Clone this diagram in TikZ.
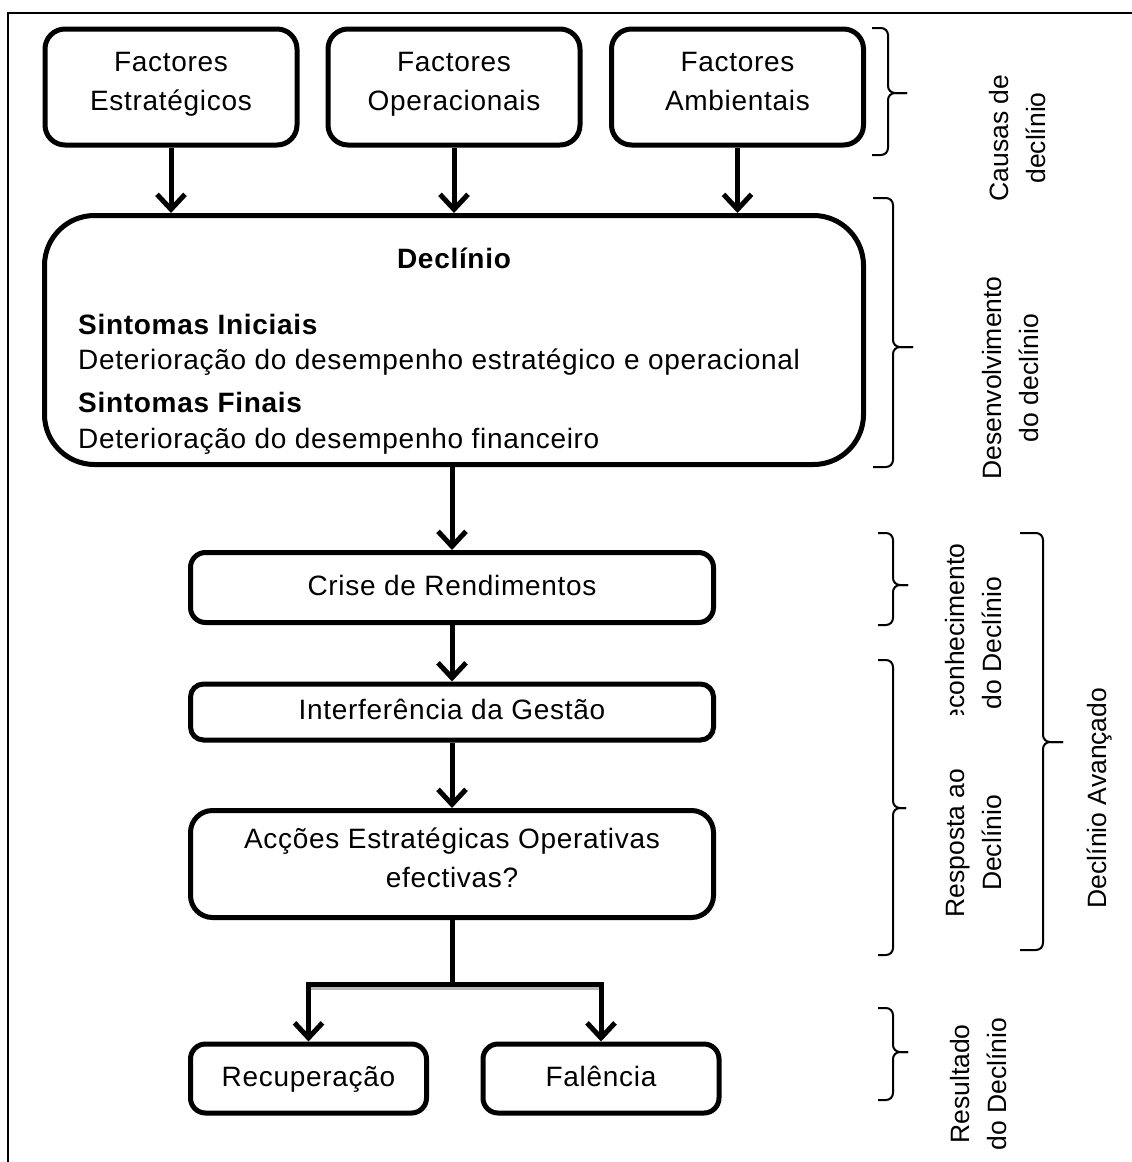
\documentclass[tikz,border=0pt]{standalone}
\usepackage{fontspec}
\setmainfont{Liberation Sans}
\newfontfamily\spacedfont{Liberation Sans}[LetterSpace=2.5]
\usetikzlibrary{arrows.meta}
\newcommand{\bracket}[6]{% x0 x1 x2 ytop ymid ybot
  \draw[brc] (#1,#4) -- (#2,#4) -- (#2,#5) -- (#3,#5);
  \draw[brc] (#1,#6) -- (#2,#6) -- (#2,#5) -- (#3,#5);}
\begin{document}
\begin{tikzpicture}[x=1pt,y=-1pt,
  box/.style={draw, line width=5pt, align=center, inner sep=0pt,
    font=\spacedfont\fontsize{28}{39}\selectfont},
  topbox/.style={box, rounded corners=20pt, minimum width=252pt, minimum height=116pt},
  midbox/.style={box, rounded corners=15pt, minimum width=523pt},
  endbox/.style={box, rounded corners=15pt, minimum width=236pt, minimum height=70pt},
  txt/.style={inner sep=0pt, font=\spacedfont\fontsize{28}{39}\selectfont},
  btxt/.style={inner sep=0pt, font=\spacedfont\bfseries\fontsize{28}{39}\selectfont},
  arr/.style={line width=5pt, -{Straight Barb[length=15pt, width=28pt, line width=5pt]}},
  conn/.style={line width=5pt},
  brc/.style={line width=2pt, rounded corners=7pt},
  lbl/.style={rotate=90, align=center, inner sep=0pt, font=\fontsize{26.5}{37}\selectfont}
]
\useasboundingbox (0,0) rectangle (1132,1162);
% frame
\draw[line width=2.5pt] (8,1175) -- (8,13) -- (1145,13);

% top boxes
\node[topbox] (f1) at (171,87) {Factores\\Estratégicos\strut};
\node[topbox] (f2) at (454,87) {Factores\\Operacionais\strut};
\node[topbox] (f3) at (737.5,87) {Factores\\Ambientais\strut};

% decline box
\node[box, rounded corners=50pt, minimum width=819pt, minimum height=249pt] (dec) at (454,340) {};
\node[btxt] (dtitle) at (454,258) {Declínio};
\node[btxt, anchor=west] (s1) at (78,324) {Sintomas Iniciais};
\node[txt, anchor=west] (d1) at (78,362) {Deterioração do desempenho estratégico e operacional};
\node[btxt, anchor=west] (s2) at (78,402) {Sintomas Finais};
\node[txt, anchor=west] (d2) at (78,441) {Deterioração do desempenho financeiro};

\draw[arr] (f1.south) -- (f1.south |- dec.north);
\draw[arr] (f2.south) -- (f2.south |- dec.north);
\draw[arr] (f3.south) -- (f3.south |- dec.north);

% chain
\node[midbox, rounded corners=15pt, minimum height=70pt] (cri) at (452,587.5) {Crise de Rendimentos\strut};
\node[midbox, rounded corners=13pt, minimum height=56pt] (int) at (452,712) {Interferência da Gestão\strut};
\node[midbox, rounded corners=22pt, minimum height=107pt] (acc) at (452,864) {Acções Estratégicas Operativas\\efectivas?\strut};

\draw[arr] (dec.south -| cri.north) -- (cri.north);
\draw[arr] (cri.south) -- (int.north);
\draw[arr] (int.south) -- (acc.north);

% outcomes
\node[endbox, minimum height=69pt] (rec) at (308.5,1078.5) {Recuperação\strut};
\node[endbox, minimum height=69pt] (fal) at (601,1078.5) {Falência\strut};
\coordinate (split) at (452,984);
\draw[line width=4pt, gray!55] ([yshift=-3.5pt]split -| rec.north) -- ([yshift=-3.5pt]split -| fal.north);
\draw[conn] (acc.south) -- (split);
\draw[arr] (split) -| (rec.north);
\draw[arr] (split) -| (fal.north);

% brackets
\bracket{872}{888}{907}{28}{93}{155}
\bracket{873}{893}{913}{198}{347}{467}
\bracket{878}{893}{908}{533}{585}{625}
\bracket{878}{893}{906}{660}{808}{955}
\bracket{1020}{1043}{1063}{533}{742}{950}
\bracket{878}{893}{908}{1008}{1052}{1100}

% labels
\node[lbl] (lc) at (1017.5,138) {Causas de\\declínio};
\node[lbl] (ld) at (1011,378) {Desenvolvimento\\do declínio};
\begin{scope}
  \clip (925,500) rectangle (1020,714);
  \node[lbl] (lr) at (974,643) {Reconhecimento\\do Declínio};
\end{scope}
\node[lbl] (lp) at (974,843) {Resposta ao\\Declínio};
\node[lbl] (la) at (1100,798) {Declínio Avançado};
\node[lbl] (lu) at (978.5,1084) {Resultado\\do Declínio};
\end{tikzpicture}
\end{document}
